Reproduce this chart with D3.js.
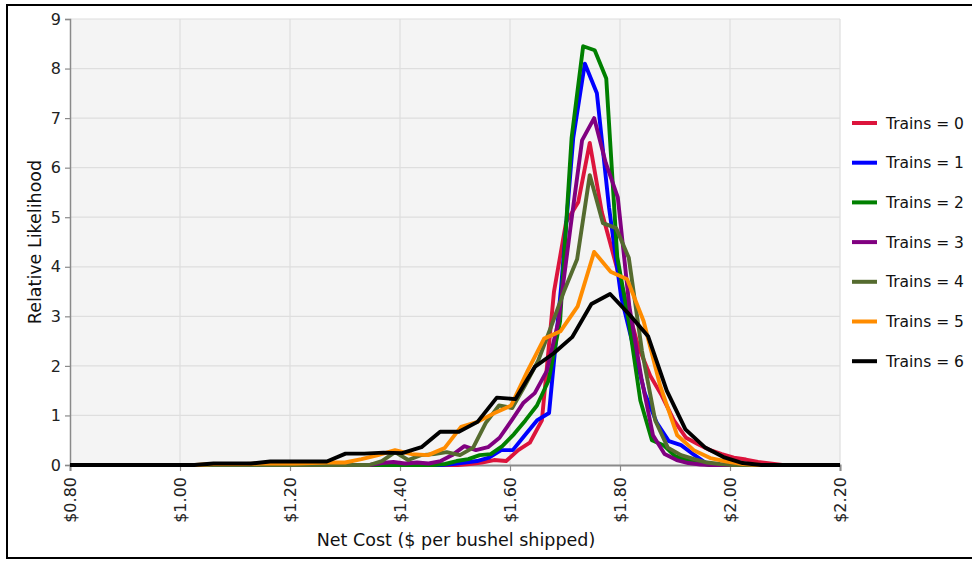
<!DOCTYPE html>
<html>
<head>
<meta charset="utf-8">
<script src="https://cdn.jsdelivr.net/npm/d3@7"></script>
<style>
  html, body { margin: 0; padding: 0; background: #fff; }
  svg { display: block; font-family: "DejaVu Sans", Verdana, sans-serif; }
</style>
</head>
<body>
<svg id="chart" width="972" height="563"></svg>
<script>
// Net cost distributions ($ per bushel shipped) for each number of trains
const seriesNames = ["Trains = 0", "Trains = 1", "Trains = 2", "Trains = 3", "Trains = 4", "Trains = 5", "Trains = 6"];
const seriesColors = ["#dc143c", "#0000ff", "#008000", "#800080", "#556b2f", "#ff8c00", "#000000"];

const cost0 = [0.80, 1.505, 1.527, 1.549, 1.571, 1.593, 1.615, 1.636, 1.658, 1.680, 1.702, 1.724, 1.745, 1.767, 1.789, 1.811, 1.833, 1.855, 1.876, 1.898, 1.920, 1.942, 1.964, 1.985, 2.007, 2.029, 2.051, 2.073, 2.095, 2.20];
const like0 = [0, 0, 0.02, 0.05, 0.1, 0.08, 0.3, 0.45, 0.9, 3.5, 4.9, 5.3, 6.5, 5.1, 4.2, 3.3, 2.4, 1.8, 1.4, 0.9, 0.55, 0.42, 0.3, 0.22, 0.15, 0.11, 0.06, 0.03, 0, 0];

const cost1 = [0.80, 1.475, 1.496, 1.518, 1.540, 1.562, 1.584, 1.605, 1.627, 1.649, 1.671, 1.693, 1.715, 1.736, 1.758, 1.780, 1.802, 1.824, 1.845, 1.867, 1.889, 1.911, 1.933, 1.955, 1.976, 2.20];
const like1 = [0, 0, 0.02, 0.05, 0.08, 0.15, 0.3, 0.3, 0.6, 0.9, 1.05, 3.6, 6.6, 8.1, 7.5, 5.2, 3.4, 2.4, 1.45, 0.85, 0.48, 0.4, 0.22, 0.05, 0, 0];

const cost2 = [0.80, 1.461, 1.482, 1.503, 1.524, 1.545, 1.565, 1.586, 1.607, 1.628, 1.649, 1.670, 1.691, 1.712, 1.733, 1.754, 1.775, 1.795, 1.816, 1.837, 1.858, 1.879, 1.900, 1.921, 1.942, 1.963, 2.20];
const like2 = [0, 0, 0.02, 0.08, 0.12, 0.2, 0.22, 0.38, 0.62, 0.9, 1.2, 1.7, 2.9, 6.6, 8.45, 8.37, 7.8, 4.2, 2.9, 1.3, 0.5, 0.4, 0.18, 0.1, 0.05, 0, 0];

const cost3 = [0.80, 1.345, 1.367, 1.388, 1.409, 1.431, 1.452, 1.474, 1.495, 1.517, 1.538, 1.560, 1.581, 1.603, 1.624, 1.645, 1.667, 1.688, 1.710, 1.731, 1.753, 1.774, 1.796, 1.817, 1.839, 1.860, 1.881, 1.903, 1.924, 1.946, 1.967, 2.20];
const like3 = [0, 0, 0.04, 0.06, 0.03, 0.05, 0.03, 0.08, 0.2, 0.38, 0.3, 0.36, 0.55, 0.9, 1.25, 1.45, 1.9, 2.9, 4.8, 6.55, 7.0, 6.1, 5.4, 3.2, 1.75, 0.6, 0.22, 0.1, 0.04, 0.01, 0, 0];

const cost4 = [0.80, 1.344, 1.367, 1.391, 1.415, 1.438, 1.462, 1.485, 1.509, 1.533, 1.556, 1.580, 1.604, 1.627, 1.651, 1.675, 1.698, 1.722, 1.745, 1.769, 1.793, 1.816, 1.840, 1.864, 1.887, 1.911, 1.935, 1.958, 1.982, 2.005, 2.20];
const like4 = [0, 0, 0.08, 0.26, 0.1, 0.2, 0.22, 0.26, 0.2, 0.35, 0.85, 1.2, 1.15, 1.6, 2.1, 2.8, 3.5, 4.15, 5.85, 4.88, 4.78, 4.18, 2.3, 0.9, 0.35, 0.2, 0.12, 0.05, 0.02, 0, 0];

const cost5 = [0.80, 1.028, 1.059, 1.089, 1.119, 1.149, 1.179, 1.209, 1.240, 1.270, 1.300, 1.330, 1.360, 1.391, 1.421, 1.451, 1.481, 1.511, 1.541, 1.572, 1.602, 1.632, 1.662, 1.692, 1.723, 1.753, 1.783, 1.813, 1.843, 1.873, 1.904, 1.934, 1.964, 1.994, 2.024, 2.055, 2.20];
const like5 = [0, 0, 0.02, 0.02, 0.02, 0.03, 0.03, 0.03, 0.04, 0.05, 0.05, 0.12, 0.2, 0.3, 0.22, 0.2, 0.34, 0.77, 0.87, 1.05, 1.2, 1.9, 2.55, 2.7, 3.2, 4.3, 3.9, 3.75, 2.9, 1.6, 0.6, 0.3, 0.14, 0.07, 0.02, 0, 0];

const cost6 = [0.80, 0.992, 1.026, 1.061, 1.095, 1.129, 1.164, 1.198, 1.232, 1.267, 1.301, 1.335, 1.370, 1.404, 1.439, 1.473, 1.507, 1.541, 1.576, 1.610, 1.645, 1.679, 1.713, 1.748, 1.782, 1.816, 1.851, 1.885, 1.919, 1.954, 1.988, 2.023, 2.057, 2.20];
const like6 = [0, 0, 0, 0.03, 0.03, 0.03, 0.07, 0.07, 0.07, 0.07, 0.23, 0.23, 0.25, 0.24, 0.36, 0.67, 0.67, 0.87, 1.36, 1.33, 1.98, 2.25, 2.58, 3.25, 3.45, 3.05, 2.6, 1.5, 0.72, 0.36, 0.16, 0.04, 0, 0];

const xTicks = [0.80, 1.00, 1.20, 1.40, 1.60, 1.80, 2.00, 2.20];
const yTicks = [0, 1, 2, 3, 4, 5, 6, 7, 8, 9];

const costs = [cost0, cost1, cost2, cost3, cost4, cost5, cost6];
const likes = [like0, like1, like2, like3, like4, like5, like6];
const series = seriesNames.map((name, i) => ({
  name, color: seriesColors[i],
  points: d3.zip(costs[i], likes[i])
}));

const svg = d3.select("#chart");

// outer frame
svg.append("rect")
  .attr("x", 7).attr("y", 5).attr("width", 990).attr("height", 553)
  .attr("fill", "none").attr("stroke", "#000").attr("stroke-width", 2);

const plot = { left: 70, right: 840, top: 19, bottom: 465 };
const x = d3.scaleLinear().domain([0.80, 2.20]).range([plot.left, plot.right]);
const y = d3.scaleLinear().domain([0, 9]).range([plot.bottom, plot.top]);

// plot background
svg.append("rect")
  .attr("x", plot.left).attr("y", plot.top)
  .attr("width", plot.right - plot.left).attr("height", plot.bottom - plot.top)
  .attr("fill", "#f4f4f4");

// grid
svg.append("g").selectAll("line").data(yTicks.filter(d => d > 0)).join("line")
  .attr("x1", plot.left).attr("x2", plot.right)
  .attr("y1", d => y(d)).attr("y2", d => y(d))
  .attr("stroke", "#dedede").attr("stroke-width", 1.2);
svg.append("g").selectAll("line").data(xTicks.filter(d => d > 0.8)).join("line")
  .attr("x1", d => x(d)).attr("x2", d => x(d))
  .attr("y1", plot.top).attr("y2", plot.bottom)
  .attr("stroke", "#dedede").attr("stroke-width", 1.2);

// axes
const yAxis = svg.append("g")
  .attr("transform", `translate(${plot.left},0)`)
  .call(d3.axisLeft(y).tickValues(yTicks).tickFormat(d3.format("d")).tickSize(5).tickPadding(4));
yAxis.select(".domain").attr("stroke", "#8a8a8a").attr("stroke-width", 1.5);
yAxis.selectAll(".tick line").attr("stroke", "#8a8a8a").attr("stroke-width", 1.2);
yAxis.selectAll(".tick text").attr("font-size", 16).attr("fill", "#222")
  .attr("font-family", "DejaVu Sans, sans-serif");

const xAxis = svg.append("g")
  .attr("transform", `translate(0,${plot.bottom})`)
  .call(d3.axisBottom(x).tickValues(xTicks).tickFormat(d => "$" + d3.format(".2f")(d)).tickSize(6));
xAxis.select(".domain").attr("stroke", "#8a8a8a").attr("stroke-width", 2);
xAxis.selectAll(".tick line").attr("stroke", "#8a8a8a").attr("stroke-width", 1.2);
xAxis.selectAll(".tick text")
  .attr("font-size", 16).attr("fill", "#222")
  .attr("font-family", "DejaVu Sans, sans-serif")
  .attr("transform", "rotate(-90)")
  .attr("text-anchor", "end")
  .attr("x", -12).attr("y", 0).attr("dy", "0.35em");

// axis titles
svg.append("text")
  .attr("transform", `translate(41,${(plot.top + plot.bottom) / 2}) rotate(-90)`)
  .attr("text-anchor", "middle").attr("font-size", 17.5).attr("fill", "#111")
  .text("Relative Likelihood");
svg.append("text")
  .attr("x", 456).attr("y", 546)
  .attr("text-anchor", "middle").attr("font-size", 17.5).attr("fill", "#111")
  .text("Net Cost ($ per bushel shipped)");

// series lines
const line = d3.line().x(d => x(d[0])).y(d => y(d[1]));
svg.append("g").selectAll("path").data(series).join("path")
  .attr("d", d => line(d.points))
  .attr("fill", "none")
  .attr("stroke", d => d.color)
  .attr("stroke-width", 3.9)
  .attr("stroke-linejoin", "round");

// legend
const legend = svg.append("g").selectAll("g").data(series).join("g")
  .attr("transform", (d, i) => `translate(852,${123 + i * 39.7})`);
legend.append("line")
  .attr("x1", 0).attr("x2", 25).attr("y1", 0).attr("y2", 0)
  .attr("stroke", d => d.color).attr("stroke-width", 4);
legend.append("text")
  .attr("x", 34).attr("y", 0).attr("dy", "0.36em")
  .attr("font-size", 15.5).attr("fill", "#111")
  .text(d => d.name);
</script>
</body>
</html>
